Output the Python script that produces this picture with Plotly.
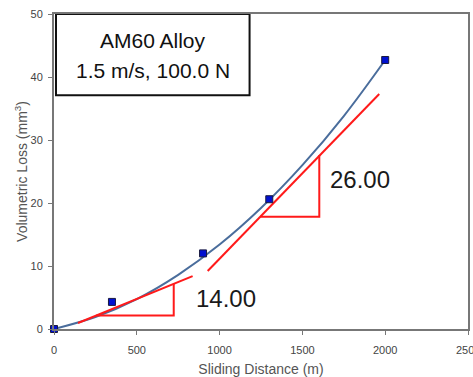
import plotly.graph_objects as go

# measured data points
dist = [0, 350, 900, 1300, 2000]
loss = [0, 4.3, 12.0, 20.6, 42.7]

# fitted trend curve
curve_x = [0, 250, 500, 750, 1000, 1250, 1500, 1750, 2000]
curve_y = [0, 1.9, 4.75, 8.6, 13.4, 19.2, 26.0, 33.8, 42.7]

# tangent lines
tan1_x = [145, 837]
tan1_y = [0.95, 8.4]
tan2_x = [928, 1964]
tan2_y = [9.2, 37.3]

# slope triangles
tri1_x = [255, 723, 723]
tri1_y = [2.14, 2.14, 7.2]
tri2_x = [1245, 1602, 1602]
tri2_y = [17.8, 17.8, 27.6]

slope_labels = ["14.00", "26.00"]
slope_lx = [1036, 1849]
slope_ly = [4.8, 23.8]

x_ticks = [0, 500, 1000, 1500, 2000]
last_x_tick = 2500
y_ticks = [0, 10, 20, 30, 40, 50]

FONT = "Liberation Sans, Arial"
red = "#ff1a1a"
fig = go.Figure()
fig.add_trace(go.Scatter(x=curve_x, y=curve_y, mode="lines", line=dict(color="#4a6d9c", width=2, shape="spline"), hoverinfo="skip"))
for xs, ys in [(tan1_x, tan1_y), (tan2_x, tan2_y), (tri1_x, tri1_y), (tri2_x, tri2_y)]:
    fig.add_trace(go.Scatter(x=xs, y=ys, mode="lines", line=dict(color=red, width=2)))
fig.add_trace(go.Scatter(x=dist, y=loss, mode="markers", cliponaxis=False,
                         marker=dict(symbol="square", size=7, color="#0010d0", line=dict(color="#1a1a40", width=1))))

for t, x, y in zip(slope_labels, slope_lx, slope_ly):
    fig.add_annotation(x=x, y=y, text=t, showarrow=False, font=dict(size=24, color="#1a1a1a", family=FONT))

# title box
fig.add_shape(type="rect", xref="x", yref="y", x0=12, x1=1181, y0=37.1, y1=50, line=dict(color="#111", width=2), fillcolor="white", layer="above")
fig.add_annotation(x=600, y=45.8, text="AM60 Alloy", showarrow=False, font=dict(size=21, color="#111", family=FONT))
fig.add_annotation(x=600, y=41.1, text="1.5 m/s, 100.0 N", showarrow=False, font=dict(size=21, color="#111", family=FONT))

axis_font = dict(size=11, color="#444", family=FONT)
# last x tick label (partly cut off at the page edge, as in the reference)
fig.add_annotation(x=last_x_tick, y=0, yref="paper", yanchor="top", yshift=-13, text=str(last_x_tick),
                   showarrow=False, font=axis_font)

fig.update_xaxes(range=[0, 2500], tickvals=x_ticks + [last_x_tick], ticktext=[str(v) for v in x_ticks] + [""],
                 ticks="outside", ticklen=4, tickcolor="#777", automargin=False, ticklabelstandoff=6,
                 showline=True, linecolor="#777", linewidth=2, mirror=True, showgrid=False, zeroline=False,
                 tickfont=axis_font, title=dict(text="Sliding Distance (m)", font=dict(size=14, color="#555", family=FONT), standoff=14))
fig.update_yaxes(range=[0, 50], tickvals=y_ticks, ticks="outside", ticklen=4, tickcolor="#777", automargin=False,
                 ticklabelstandoff=3,
                 showline=True, linecolor="#777", linewidth=2, mirror=True, showgrid=False, zeroline=False,
                 tickfont=axis_font, title=dict(text="Volumetric Loss (mm<sup>3</sup>)", font=dict(size=14, color="#555", family=FONT), standoff=0))
fig.update_layout(width=473, height=377, margin=dict(l=54, r=5, t=14, b=48), showlegend=False,
                  plot_bgcolor="white", paper_bgcolor="white")
fig.write_html("out.html", config={"displayModeBar": False},
               post_script="document.body.style.margin='0';document.body.style.overflow='hidden';")
